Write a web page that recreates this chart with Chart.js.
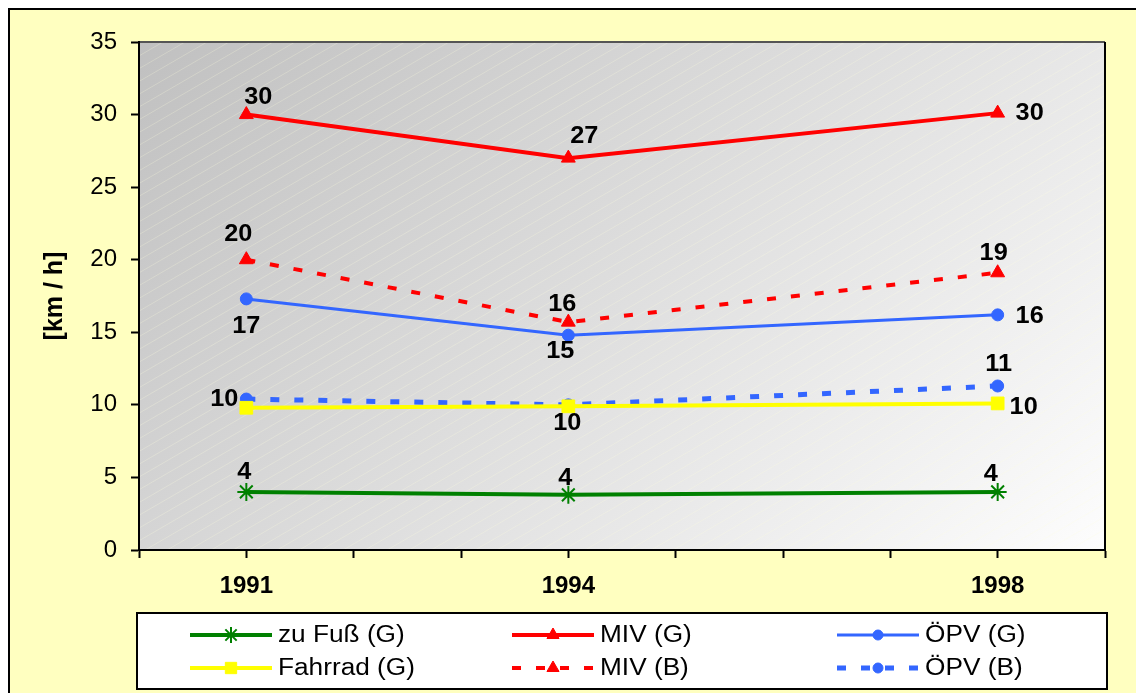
<!DOCTYPE html>
<html lang="de">
<head>
<meta charset="utf-8">
<title>Geschwindigkeit nach Verkehrsmittel</title>
<script src="https://cdn.jsdelivr.net/npm/chart.js@4.4.0/dist/chart.umd.min.js"></script>
<style>
  html, body { margin: 0; padding: 0; background: #fff; }
  canvas { display: block; }
</style>
</head>
<body>
<canvas id="grafico" width="1136" height="693"></canvas>
<script>
// Datos del gráfico
const anios = [1991, 1994, 1998];
const zuFuss = [4.0, 3.8, 4.0];
const fahrrad = [9.8, 9.9, 10.1];
const mivG = [30.0, 27.0, 30.1];
const mivB = [20.0, 15.7, 19.1];
const oepvG = [17.3, 14.8, 16.2];
const oepvB = [10.4, 10.0, 11.3];
const nombres = ['zu Fuß (G)', 'Fahrrad (G)', 'MIV (G)', 'MIV (B)', 'ÖPV (G)', 'ÖPV (B)'];
const tituloY = '[km / h]';

const fuente = "Arial, 'Liberation Sans', sans-serif";
const rojo = '#ff0000', azul = '#3366ff', amarillo = '#ffff00', verde = '#008000';

// Convierte una serie en puntos {x, y}
function puntos(valores) {
    return valores.map((v, i) => ({ x: anios[i], y: v }));
}

// Texto algo ensanchado, como en el original
function textoAncho(ctx, texto, x, y, escala) {
    ctx.save();
    ctx.translate(x, y);
    ctx.scale(escala, 1);
    ctx.fillText(texto, 0, 0);
    ctx.restore();
}

// Fondo amarillo, área de trazado con degradado y rayas finas
const fondo = {
    id: 'fondo',
    beforeDraw(chart) {
        const ctx = chart.ctx;
        const a = chart.chartArea;
        ctx.save();
        ctx.fillStyle = '#fff';
        ctx.fillRect(0, 0, chart.width, chart.height);
        ctx.fillStyle = '#ffffc0';
        ctx.fillRect(9, 9, chart.width, chart.height);
        ctx.strokeStyle = '#000';
        ctx.lineWidth = 2;
        ctx.beginPath();
        ctx.moveTo(9, chart.height);
        ctx.lineTo(9, 9);
        ctx.lineTo(chart.width, 9);
        ctx.stroke();

        // degradado a 45 grados
        const d = ((a.right - a.left) + (a.bottom - a.top)) / 2;
        let grad = ctx.createLinearGradient(a.left, a.top, a.left + d, a.top + d);
        grad.addColorStop(0, '#c0c0c0');
        grad.addColorStop(1, '#fdfdfd');
        ctx.fillStyle = grad;
        ctx.fillRect(a.left, a.top, a.right - a.left, a.bottom - a.top);

        // rayas diagonales
        ctx.beginPath();
        ctx.rect(a.left, a.top, a.right - a.left, a.bottom - a.top);
        ctx.clip();
        ctx.strokeStyle = 'rgba(255, 255, 225, 0.25)';
        ctx.lineWidth = 1;
        const pendiente = 0.58;
        const alto = a.bottom - a.top;
        for (let x = a.left - alto / pendiente - 20; x < a.right; x += 22) {
            ctx.beginPath();
            ctx.moveTo(x, a.bottom);
            ctx.lineTo(x + 2000, a.bottom - 2000 * pendiente);
            ctx.stroke();
        }
        ctx.restore();

        ctx.save();
        ctx.strokeStyle = '#555';
        ctx.lineWidth = 2;
        ctx.beginPath();
        ctx.moveTo(a.left, a.top);
        ctx.lineTo(a.right, a.top);
        ctx.stroke();
        ctx.strokeStyle = '#000';
        ctx.beginPath();
        ctx.moveTo(a.right, a.top);
        ctx.lineTo(a.right, a.bottom);
        ctx.stroke();
        ctx.restore();
    }
};

// Etiquetas de valores junto a cada punto
const etiquetas = {
    id: 'etiquetas',
    afterDatasetsDraw(chart) {
        const ctx = chart.ctx;
        ctx.save();
        ctx.font = 'bold 23px ' + fuente;
        ctx.fillStyle = '#000';
        ctx.textAlign = 'center';
        ctx.textBaseline = 'middle';
        chart.data.datasets.forEach((ds, i) => {
            const meta = chart.getDatasetMeta(i);
            meta.data.forEach((p, j) => {
                const off = ds.etiquetas[j];
                if (!off) return;
                textoAncho(ctx, String(Math.round(ds.data[j].y)), p.x + off[0], p.y + off[1], 1.1);
            });
        });
        ctx.restore();
    }
};

// Leyenda dibujada a mano (línea + marcador)
const leyenda = {
    id: 'leyenda',
    afterDraw(chart) {
        const ctx = chart.ctx;
        const a = chart.chartArea;
        const caja = { x: a.left - 2, y: 613, w: a.right - a.left + 4, h: 76 };
        ctx.save();
        ctx.fillStyle = '#fff';
        ctx.fillRect(caja.x, caja.y, caja.w, caja.h);
        ctx.strokeStyle = '#000';
        ctx.lineWidth = 2;
        ctx.strokeRect(caja.x, caja.y, caja.w, caja.h);

        const columnas = [190, 512, 837];
        const filas = [635, 668];
        ctx.font = '23px ' + fuente;
        ctx.textBaseline = 'middle';
        chart.data.datasets.forEach((ds, i) => {
            const x0 = columnas[Math.floor(i / 2)];
            const y = filas[i % 2];
            ctx.strokeStyle = ds.borderColor;
            ctx.lineWidth = ds.borderWidth;
            ctx.setLineDash(ds.borderDash || []);
            ctx.beginPath();
            ctx.moveTo(x0, y);
            ctx.lineTo(x0 + 82, y);
            ctx.stroke();
            ctx.setLineDash([]);
            ctx.fillStyle = ds.pointBackgroundColor;
            ctx.strokeStyle = ds.pointBorderColor;
            ctx.lineWidth = ds.pointBorderWidth;
            Chart.helpers.drawPoint(ctx, {
                pointStyle: ds.pointStyle,
                radius: ds.pointRadius - 1,
                rotation: 0,
                borderWidth: ds.pointBorderWidth
            }, x0 + 41, y);
            ctx.fillStyle = '#000';
            ctx.textAlign = 'left';
            textoAncho(ctx, ds.label, x0 + 88, y + 1, 1.14);
        });
        ctx.restore();
    }
};

function serie(nombre, valores, color, estilo, radio, guiones, ancho, offs) {
    return {
        label: nombre,
        data: puntos(valores),
        borderColor: color,
        backgroundColor: color,
        borderWidth: ancho,
        borderDash: guiones,
        pointStyle: estilo,
        pointRadius: radio,
        pointHoverRadius: radio,
        pointBackgroundColor: color,
        pointBorderColor: color,
        pointBorderWidth: estilo === 'star' ? 2 : 1,
        tension: 0,
        fill: false,
        etiquetas: offs
    };
}

const ctx = document.getElementById('grafico').getContext('2d');
const grafico = new Chart(ctx, {
    type: 'line',
    data: {
        datasets: [
            serie(nombres[0], zuFuss, verde, 'star', 9, [], 4, [[-2, -19], [-3, -16], [-7, -17]]),
            serie(nombres[1], fahrrad, amarillo, 'rect', 9, [], 4, [null, [-1, 17], [26, 4]]),
            serie(nombres[2], mivG, rojo, 'triangle', 8, [], 4, [[12, -17], [16, -21], [32, 1]]),
            serie(nombres[3], mivB, rojo, 'triangle', 8, [9, 15], 4, [[-8, -25], [-6, -17], [-4, -19]]),
            serie(nombres[4], oepvG, azul, 'circle', 6, [], 3, [[0, 28], [-8, 16], [32, 2]]),
            serie(nombres[5], oepvB, azul, 'circle', 6, [9, 15], 5, [[-22, 1], null, [1, -21]])
        ]
    },
    options: {
        responsive: false,
        devicePixelRatio: 1,
        animation: false,
        events: [],
        layout: { padding: { left: 0, top: 42, right: 31, bottom: 0 } },
        plugins: {
            legend: { display: false },
            tooltip: { enabled: false }
        },
        scales: {
            x: {
                type: 'linear',
                min: 1990,
                max: 1999,
                afterFit: (s) => { s.height = 143; },
                border: { color: '#000', width: 2 },
                grid: { drawOnChartArea: false, tickLength: 8, tickColor: '#000', tickWidth: 2 },
                ticks: {
                    stepSize: 1,
                    autoSkip: false,
                    maxRotation: 0,
                    padding: 14,
                    color: '#000',
                    font: { family: fuente, size: 24, weight: 'bold' },
                    callback: (v) => anios.includes(v) ? String(v) : ''
                }
            },
            y: {
                min: 0,
                max: 35,
                afterFit: (s) => { s.width = 139; },
                border: { color: '#000', width: 2 },
                grid: { drawOnChartArea: false, tickLength: 8, tickColor: '#000', tickWidth: 2 },
                title: {
                    display: true,
                    text: tituloY,
                    color: '#000',
                    padding: { top: 40, bottom: 0 },
                    font: { family: fuente, size: 25, weight: 'bold' }
                },
                ticks: {
                    stepSize: 5,
                    padding: 14,
                    color: '#000',
                    font: { family: fuente, size: 24 }
                }
            }
        }
    },
    plugins: [fondo, etiquetas, leyenda]
});
</script>
</body>
</html>
